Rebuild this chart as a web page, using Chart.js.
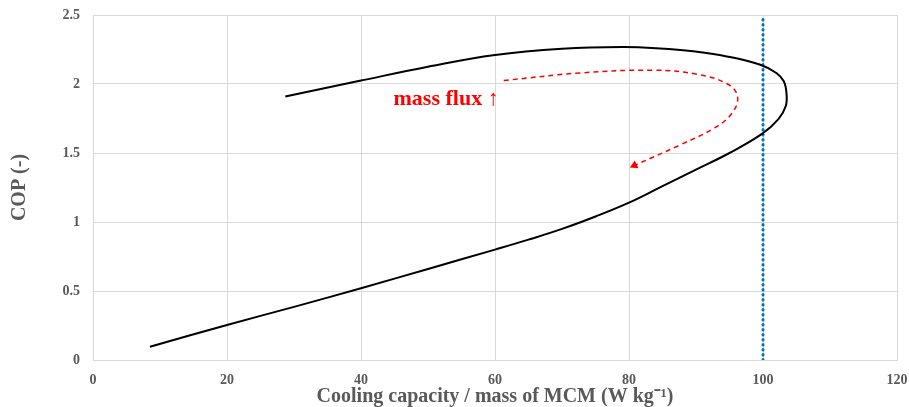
<!DOCTYPE html>
<html>
<head>
<meta charset="utf-8">
<script src="https://cdn.jsdelivr.net/npm/chart.js@4/dist/chart.umd.min.js"></script>
<style>
  html, body { margin: 0; padding: 0; background: #fff; }
</style>
</head>
<body>
<canvas id="copChart" width="909" height="407"></canvas>
<script>
// COP vs specific cooling capacity
const capacity = [8.5, 20, 30, 40, 50, 60, 65, 70, 75, 80, 85, 90, 95, 99.9, 102.3, 103.4, 103.5, 103.1, 102, 99.6, 94.6, 89.6, 84.6, 79, 70, 60, 50, 40, 28.7];
const cop = [0.096, 0.254, 0.385, 0.52, 0.66, 0.80, 0.872, 0.95, 1.04, 1.14, 1.26, 1.38, 1.50, 1.64, 1.745, 1.84, 1.936, 2.02, 2.08, 2.14, 2.20, 2.237, 2.258, 2.268, 2.255, 2.21, 2.125, 2.025, 1.91];

// red "mass flux" arrow
const arrowX = [61.3, 72.7, 83.7, 90.2, 94.7, 96.2, 95.4, 92.7, 87.7, 80.8];
const arrowY = [2.025, 2.08, 2.10, 2.07, 2.0, 1.91, 1.79, 1.68, 1.56, 1.41];

// vertical limit line
const limitX = [100, 100];
const limitY = [0, 2.5];

const noteText = 'mass flux \u2191';
const noteX = 52.7;
const noteY = 1.89;

const toPoints = (xs, ys) => xs.map((x, i) => ({ x: x, y: ys[i] }));

const grey = '#595959';
const gridGrey = '#d9d9d9';
const serif = "'Liberation Serif', 'Times New Roman', serif";

const notePlugin = {
  id: 'note',
  afterDatasetsDraw: (chart) => {
    const { ctx, scales } = chart;
    ctx.save();
    ctx.font = `bold 22px ${serif}`;
    ctx.fillStyle = '#ff0000';
    ctx.textAlign = 'center';
    ctx.textBaseline = 'middle';
    ctx.fillText(noteText, scales.x.getPixelForValue(noteX), scales.y.getPixelForValue(noteY));
    ctx.restore();
  },
};

const arrowPts = toPoints(arrowX, arrowY);

new Chart('copChart', {
  type: 'scatter',
  data: {
    datasets: [
      {
        data: toPoints(limitX, limitY),
        showLine: true,
        borderColor: '#0070c0',
        borderWidth: 3,
        borderCapStyle: 'round',
        borderDash: [0.5, 4.5],
        pointRadius: 0,
        order: 3,
      },
      {
        data: toPoints(capacity, cop),
        showLine: true,
        borderColor: '#000000',
        borderWidth: 2,
        tension: 0.4,
        pointRadius: 0,
        order: 1,
      },
      {
        data: arrowPts,
        showLine: true,
        borderColor: '#ff0000',
        borderWidth: 1.5,
        borderDash: [5, 4],
        tension: 0.4,
        pointStyle: 'triangle',
        pointRotation: 244,
        pointRadius: arrowPts.map((p, i) => (i === arrowPts.length - 1 ? 5 : 0)),
        pointBackgroundColor: '#ff0000',
        pointBorderColor: '#ff0000',
        pointBorderWidth: 0,
        order: 2,
      },
    ],
  },
  options: {
    responsive: false,
    animation: false,
    layout: { padding: { left: 10, right: 0, top: 0, bottom: 0 } },
    plugins: {
      legend: { display: false },
      tooltip: { enabled: false },
    },
    scales: {
      x: {
        type: 'linear',
        min: 0,
        max: 120,
        afterFit: (scale) => {
          scale.height = 47;
          scale.paddingLeft = 0;
          scale.paddingRight = 12;
        },
        ticks: {
          stepSize: 20,
          color: grey,
          font: { family: serif, size: 14, weight: 'bold' },
          padding: 12,
          callback: (v) => String(v),
        },
        grid: { color: gridGrey, drawTicks: false },
        border: { color: gridGrey },
        title: {
          display: true,
          text: 'Cooling capacity / mass of MCM (W kg\u207B\u00B9)',
          color: grey,
          font: { family: serif, size: 20, weight: 'bold', lineHeight: 1 },
          padding: { top: 0, bottom: 0 },
        },
      },
      y: {
        type: 'linear',
        min: 0,
        max: 2.5,
        afterFit: (scale) => {
          scale.width = 83;
          scale.paddingTop = 15;
          scale.paddingBottom = 0;
        },
        ticks: {
          stepSize: 0.5,
          color: grey,
          font: { family: serif, size: 14, weight: 'bold' },
          padding: 13,
          callback: (v) => String(v),
        },
        grid: { color: gridGrey, drawTicks: false },
        border: { color: gridGrey },
        title: {
          display: true,
          text: 'COP (-)',
          color: grey,
          font: { family: serif, size: 20, weight: 'bold', lineHeight: 1 },
          padding: { top: 0, bottom: 23 },
        },
      },
    },
  },
  plugins: [notePlugin],
});
</script>
</body>
</html>
